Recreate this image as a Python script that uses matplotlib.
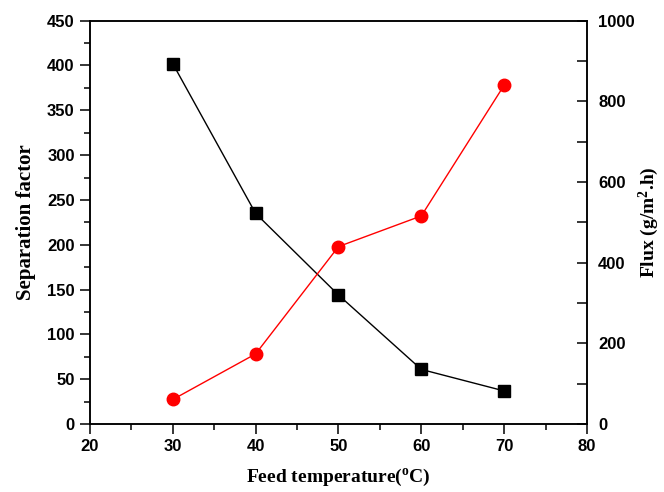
import matplotlib
matplotlib.use("Agg")
import matplotlib.pyplot as plt
from matplotlib.ticker import MultipleLocator

plt.rcParams["mathtext.fontset"] = "custom"
plt.rcParams["mathtext.rm"] = "Liberation Serif:bold"
plt.rcParams["mathtext.it"] = "Liberation Serif:bold"

# data
temperature = [30, 40, 50, 60, 70]
separation_factor = [402, 235, 144, 61, 37]
flux = [61, 174, 440, 516, 840]

tick_font = {"family": "Liberation Sans", "weight": "bold", "size": 12}
label_font = {"family": "Liberation Serif", "weight": "bold", "size": 14}

fig = plt.figure(figsize=(6.64, 4.92), dpi=100)
ax = fig.add_axes([0.1355, 0.138, 0.7485, 0.82])
ax2 = ax.twinx()

ax.plot(temperature, separation_factor, color="black", lw=1.0,
        marker="s", markersize=8, markerfacecolor="black", markeredgecolor="black")
ax2.plot(temperature, flux, color="red", lw=1.0,
         marker="o", markersize=9, markerfacecolor="red", markeredgecolor="red")

ax.set_xlim(20, 80)
ax.set_ylim(0, 450)
ax2.set_ylim(0, 1000)

ax.xaxis.set_major_locator(MultipleLocator(10))
ax.xaxis.set_minor_locator(MultipleLocator(5))
ax.yaxis.set_major_locator(MultipleLocator(50))
ax.yaxis.set_minor_locator(MultipleLocator(25))
ax2.yaxis.set_major_locator(MultipleLocator(200))
ax2.yaxis.set_minor_locator(MultipleLocator(100))

for a in (ax, ax2):
    for s in a.spines.values():
        s.set_linewidth(1.1)

ax.tick_params(axis="both", which="major", direction="out", length=7, width=1.1, pad=4)
ax.tick_params(axis="both", which="minor", direction="out", length=4, width=1.1)
ax2.tick_params(axis="y", which="major", direction="in", length=7, width=1.1, pad=8)
ax2.tick_params(axis="y", which="minor", direction="in", length=7, width=1.1)

fp = matplotlib.font_manager.FontProperties(**tick_font)
for lbl in ax.get_xticklabels() + ax.get_yticklabels() + ax2.get_yticklabels():
    lbl.set_fontproperties(fp)

ax.set_xlabel("Feed temperature($^{\\mathrm{o}}$C)", fontdict=label_font, labelpad=9)
ax.set_ylabel("Separation factor", fontdict={**label_font, "size": 15})
ax2.set_ylabel("Flux (g/m$^{\\mathrm{2}}$.h)", fontdict=label_font, rotation=90)
ax.yaxis.set_label_coords(-0.108, 0.5)
ax2.yaxis.set_label_coords(1.1, 0.5)

fig.savefig("out.png", dpi=100)
